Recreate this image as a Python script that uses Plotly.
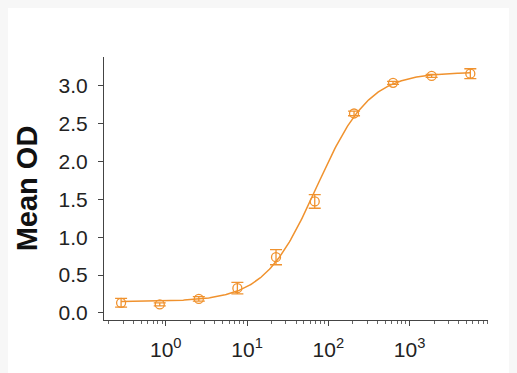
import numpy as np
import plotly.graph_objects as go

# Data
conc = [0.282, 0.843, 2.55, 7.6, 22.7, 68, 207, 625, 1865, 5580]
mean_od = [0.133, 0.112, 0.185, 0.327, 0.736, 1.472, 2.634, 3.039, 3.13, 3.16]
err_od = [0.058, 0.02, 0.03, 0.075, 0.1, 0.09, 0.03, 0.02, 0.02, 0.065]
x_tickvals = [1, 10, 100, 1000]
x_ticktext = ["10<sup>0</sup>", "10<sup>1</sup>", "10<sup>2</sup>", "10<sup>3</sup>"]
y_tickvals = [0.0, 0.5, 1.0, 1.5, 2.0, 2.5, 3.0]
y_ticktext = ["0.0", "0.5", "1.0", "1.5", "2.0", "2.5", "3.0"]

# 4-parameter logistic fit parameters (estimated from curve)
fit_bottom = 0.15
fit_top = 3.18
fit_ec50 = 72.0
fit_hill = 1.35

color = "#f0922e"

xs = np.logspace(np.log10(conc[0]), np.log10(conc[-1]), 300)
ys = fit_bottom + (fit_top - fit_bottom) / (1 + (fit_ec50 / xs) ** fit_hill)

fig = go.Figure()
fig.add_trace(go.Scatter(x=xs, y=ys, mode="lines",
                         line=dict(color=color, width=1.5), hoverinfo="skip"))
fig.add_trace(go.Scatter(x=conc, y=mean_od, mode="markers",
                         marker=dict(symbol="circle-open", size=9, color=color,
                                     line=dict(width=1.3, color=color)),
                         error_y=dict(type="data", array=err_od, color=color,
                                      thickness=1.3, width=6)))

# page body has an 8px margin; figure placed so that it fills the rest
OFF = 8
W, H = 517 - OFF, 373 - OFF
L, R, T, B = 104 - OFF, 488 - OFF, 57 - OFF, 326 - OFF

fig.update_layout(
    width=W, height=H,
    margin=dict(l=L, r=W - R, t=T, b=H - B),
    paper_bgcolor="white", plot_bgcolor="white",
    showlegend=False,
    font=dict(family="Liberation Sans, Arial", color="#222222"),
)
fig.update_xaxes(
    type="log", range=[-0.76, 3.964],
    tickvals=x_tickvals, ticktext=x_ticktext,
    tickfont=dict(size=21, color="#222222"),
    ticks="outside", ticklen=5, tickwidth=1, tickcolor="#444444",
    minor=dict(ticks="outside", ticklen=3, tickcolor="#666666", dtick="D1", showgrid=False),
    showline=True, linecolor="#444444", linewidth=1,
    showgrid=False, zeroline=False, ticklabelstandoff=6,
)
fig.update_yaxes(
    range=[-0.094, 3.38],
    tickvals=y_tickvals, ticktext=y_ticktext,
    tickfont=dict(size=21, color="#222222"),
    ticks="outside", ticklen=5, tickwidth=1, tickcolor="#444444",
    showline=True, linecolor="#444444", linewidth=1,
    showgrid=False, zeroline=False, ticklabelstandoff=6,
    title=dict(text="<b>Mean OD</b>", font=dict(size=29, color="#111111"), standoff=12),
)

fig.write_html("out.html",
               post_script="document.body.style.backgroundColor='#f7f7f7';"
                           "document.documentElement.style.overflow='hidden';")
